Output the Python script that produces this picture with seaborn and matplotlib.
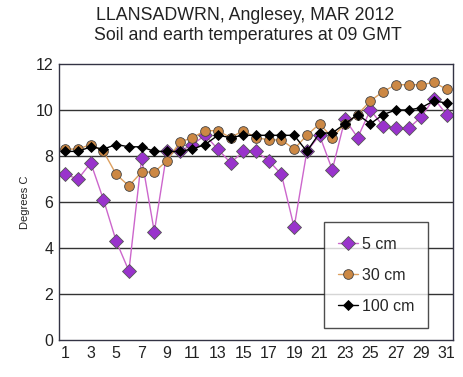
import numpy as np
import pandas as pd
import matplotlib
matplotlib.use("Agg")
import matplotlib.pyplot as plt
import seaborn as sns

days = list(range(1, 32))
t5 = [7.2, 7.0, 7.7, 6.1, 4.3, 3.0, 7.9, 4.7, 8.2, 8.2, 8.5, 8.9, 8.3, 7.7, 8.2, 8.2,
      7.8, 7.2, 4.9, 8.2, 8.9, 7.4, 9.6, 8.8, 10.0, 9.3, 9.2, 9.2, 9.7, 10.5, 9.8]
t30 = [8.3, 8.3, 8.5, 8.2, 7.2, 6.7, 7.3, 7.3, 7.8, 8.6, 8.8, 9.1, 9.1, 8.8, 9.1, 8.8,
       8.7, 8.7, 8.3, 8.9, 9.4, 8.8, 9.4, 9.8, 10.4, 10.8, 11.1, 11.1, 11.1, 11.2, 10.9]
t100 = [8.2, 8.2, 8.4, 8.3, 8.5, 8.4, 8.4, 8.2, 8.2, 8.2, 8.3, 8.5, 8.9, 8.8, 8.9, 8.9,
        8.9, 8.9, 8.9, 8.2, 9.0, 9.0, 9.4, 9.8, 9.4, 9.8, 10.0, 10.0, 10.1, 10.4, 10.3]
labels = ["5 cm", "30 cm", "100 cm"]
yticks = [0, 2, 4, 6, 8, 10, 12]
xticks = list(range(1, 32, 2))

df = pd.DataFrame({"day": days, "5 cm": t5, "30 cm": t30, "100 cm": t100})

sns.set_theme(style="white")
plt.rcParams['font.family'] = ['Liberation Sans', 'DejaVu Sans']

fig = plt.figure(figsize=(4.63, 3.77), dpi=100)
ax = fig.add_axes([59/463, 1-340/377, (453-59)/463, (340-64)/377])

styles = {
    "5 cm": dict(color="#CC66CC", marker="D", markersize=7, markerfacecolor="#9933CC",
                 markeredgecolor="#555555", markeredgewidth=0.6, linewidth=1.0),
    "30 cm": dict(color="#DDA060", marker="o", markersize=7, markerfacecolor="#CC8844",
                  markeredgecolor="#444444", markeredgewidth=0.6, linewidth=1.0),
    "100 cm": dict(color="#000000", marker="D", markersize=5.5, markerfacecolor="#000000",
                   markeredgecolor="#000000", markeredgewidth=0.6, linewidth=1.0),
}
for lab in labels:
    sns.lineplot(data=df, x="day", y=lab, ax=ax, label=lab, **styles[lab])

ax.set_xlim(0.5, 31.5)
ax.set_ylim(0, 12)
ax.set_yticks(yticks)
ax.set_xticks(xticks)
ax.set_xticklabels([str(x) for x in xticks], fontsize=11.5, color="#222222")
ax.set_yticklabels([str(y) for y in yticks], fontsize=11.5, color="#222222")
ax.tick_params(axis="both", length=0, pad=4)
for y in yticks[1:-1]:
    ax.axhline(y, color="#333333", linewidth=1.0, zorder=0)
for s in ax.spines.values():
    s.set_color("#333344")
    s.set_linewidth(1.0)
ax.set_xlabel("")
ax.set_ylabel("Degrees C", fontsize=8, color="#222222", labelpad=4)

fig.text(245/463, 1 - 15/377, "LLANSADWRN, Anglesey, MAR 2012", ha="center", va="center",
         fontsize=12.8, color="#222222")
fig.text(248/463, 1 - 35/377, "Soil and earth temperatures at 09 GMT", ha="center", va="center",
         fontsize=12.8, color="#222222")

leg = ax.legend(loc="lower left", bbox_to_anchor=((324-59)/394, (340-328)/276, (428-324)/394, (328-218)/276),
                mode="expand", frameon=True, fancybox=False, fontsize=11.5, handlelength=1.2,
                handletextpad=0.3, labelspacing=1.0, borderpad=0.9, borderaxespad=0)
leg.get_frame().set_edgecolor("#222222")
leg.get_frame().set_linewidth(1.0)

fig.savefig("out.png", dpi=100, facecolor="white")
